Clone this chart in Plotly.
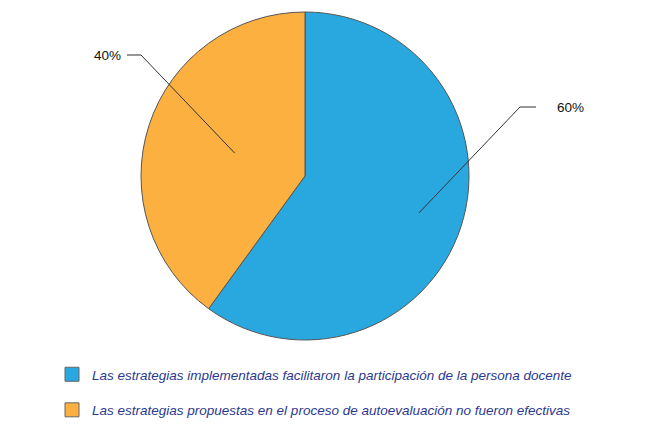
import math
import plotly.graph_objects as go

# datos
categorias = [
    "Las estrategias implementadas facilitaron la participación de la persona docente",
    "Las estrategias propuestas en el proceso de autoevaluación no fueron efectivas",
]
valores = [60, 40]
colores = ["#29a8e0", "#fbb040"]
etiquetas = ["60%", "40%"]

W, H = 653, 430
OFF = 8  # margen del body de la página
CX, CY, R = 305, 176, 164  # centro y radio del pastel (px de pantalla)


def px(x):
    return (x - OFF) / W


def py(y):
    return 1 - (y - OFF) / H


fig = go.Figure()

fig.add_trace(go.Pie(
    labels=categorias,
    values=valores,
    marker=dict(colors=colores, line=dict(color="#555555", width=1)),
    sort=False,
    direction="clockwise",
    rotation=0,
    textinfo="none",
    hoverinfo="label+percent",
    showlegend=False,
    domain=dict(x=[px(CX - R), px(CX + R)], y=[py(CY + R), py(CY - R)]),
))

# leyenda con trazas auxiliares
for i, (cat, col) in enumerate(zip(categorias, colores)):
    fig.add_trace(go.Scatter(
        x=[None], y=[None], mode="markers", name=cat,
        legendgroup=str(i),
        marker=dict(symbol="square", size=14, color=col,
                    line=dict(color="#666666", width=1)),
    ))

# etiquetas con líneas guía
total = sum(valores)
codos = [(520, 107, 536), (141, 55, 127)]   # codo x, y, final del tramo horizontal
pos_texto = [(570, 107), (108, 55)]
radio_int = [0.73, 0.45]
acum = 0
for i, v in enumerate(valores):
    medio = (acum + v / 2) / total * 2 * math.pi
    acum += v
    x0 = CX + radio_int[i] * R * math.sin(medio)
    y0 = CY - radio_int[i] * R * math.cos(medio)
    ex, ey, hx = codos[i]
    fig.add_shape(type="path",
                  path=f"M {px(x0)} {py(y0)} L {px(ex)} {py(ey)} L {px(hx)} {py(ey)}",
                  xref="paper", yref="paper",
                  line=dict(color="#333333", width=1))
    tx, ty = pos_texto[i]
    fig.add_annotation(x=px(tx), y=py(ty), xref="paper", yref="paper",
                       xanchor="center", yanchor="middle",
                       text=etiquetas[i], showarrow=False,
                       font=dict(family="Liberation Sans, Arial, sans-serif",
                                 size=13.5, color="#111111"))

fig.update_layout(
    width=W, height=H,
    margin=dict(l=0, r=0, t=0, b=0),
    paper_bgcolor="white",
    plot_bgcolor="white",
    xaxis=dict(visible=False),
    yaxis=dict(visible=False),
    legend=dict(
        x=px(52), y=py(359), xanchor="left", yanchor="top",
        traceorder="grouped", tracegroupgap=15,
        font=dict(family="Liberation Sans, Arial, sans-serif",
                  size=13.5, color="#2b3990", style="italic"),
        itemsizing="trace",
        bgcolor="rgba(0,0,0,0)",
    ),
    showlegend=True,
)

fig.write_html("out.html")
